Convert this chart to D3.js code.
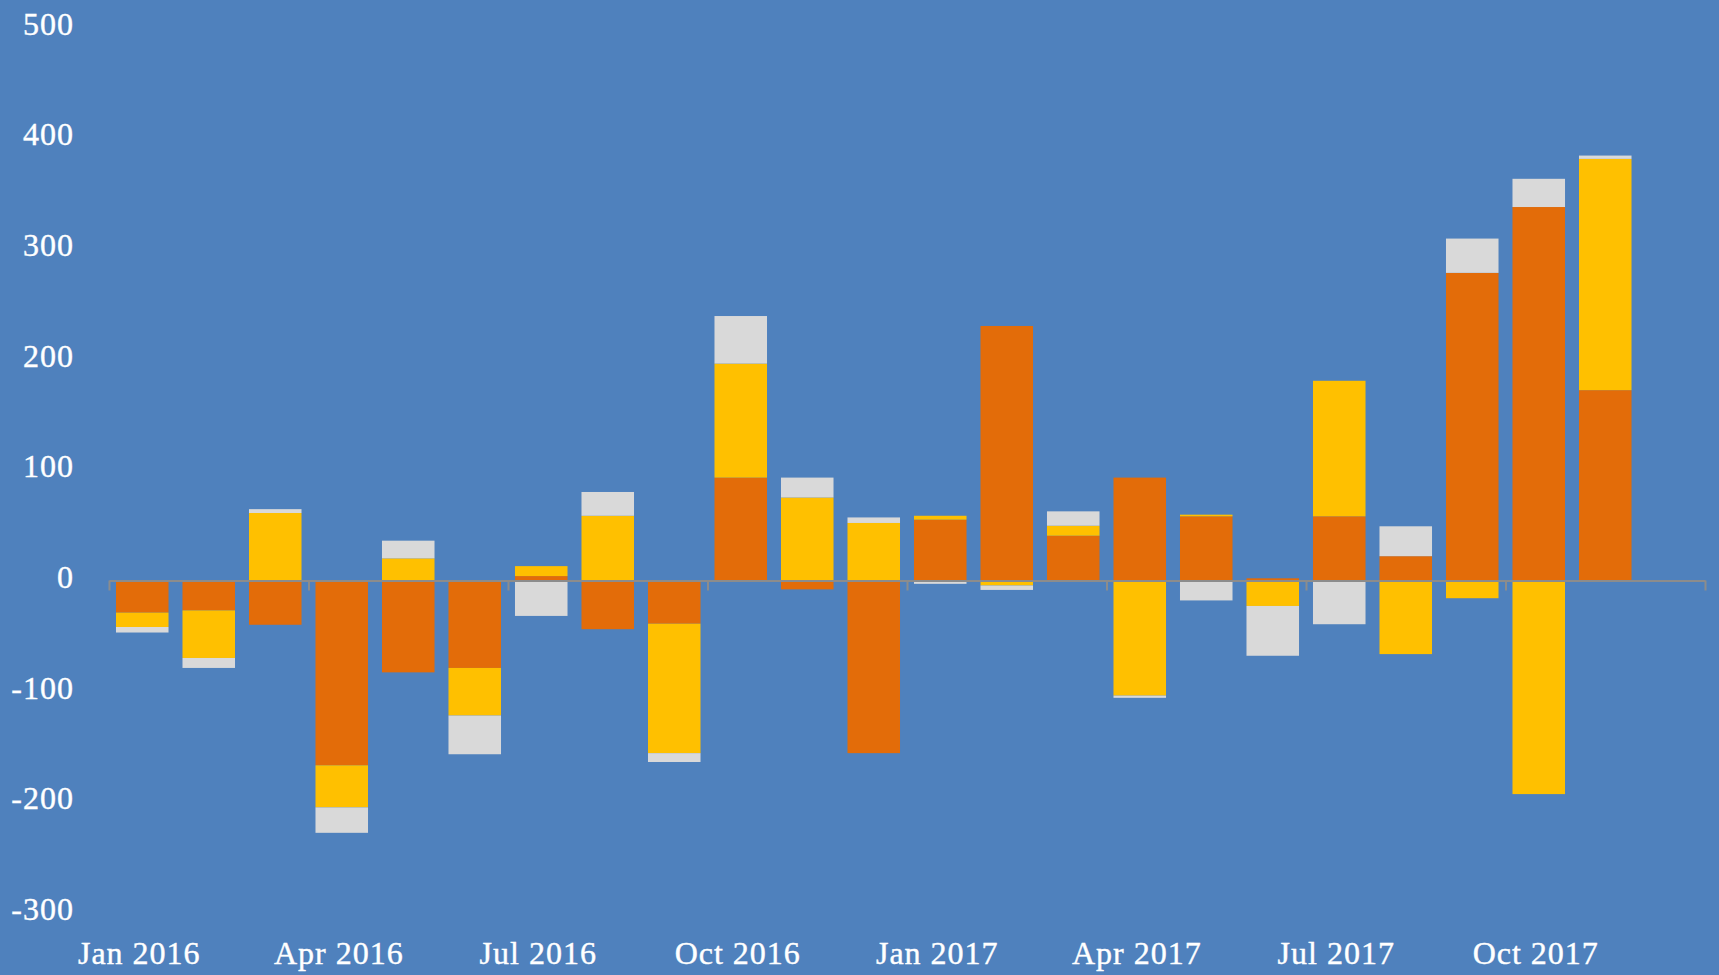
<!DOCTYPE html>
<html>
<head>
<meta charset="utf-8">
<script src="https://cdn.jsdelivr.net/npm/d3@7"></script>
<style>
    html, body { margin: 0; padding: 0; background: #4F81BD; overflow: hidden; }
    svg { display: block; }
    text { font-family: "Liberation Serif", "Times New Roman", serif; fill: #ffffff; }
</style>
</head>
<body>
<svg id="chart"></svg>
<script>
// month slots on the x axis (last one has no bar)
const months = [
    "Jan 2016", "Feb 2016", "Mar 2016", "Apr 2016", "May 2016", "Jun 2016",
    "Jul 2016", "Aug 2016", "Sep 2016", "Oct 2016", "Nov 2016", "Dec 2016",
    "Jan 2017", "Feb 2017", "Mar 2017", "Apr 2017", "May 2017", "Jun 2017",
    "Jul 2017", "Aug 2017", "Sep 2017", "Oct 2017", "Nov 2017", "Dec 2017"
];
const monthLabels = ["Jan 2016", "Apr 2016", "Jul 2016", "Oct 2016", "Jan 2017", "Apr 2017", "Jul 2017", "Oct 2017"];
const yTicks = [-300, -200, -100, 0, 100, 200, 300, 400, 500];

// series values, Jan 2016 .. Nov 2017
const seriesKeys = ["orange", "yellow", "grey"];
const orangeValues = [-29, -27, -40, -167, -83, -79, 4, -44, -39, 93, -8, -156, 55, 230, 40.5, 93, 58, 2, 58, 22, 278, 337.5, 172];
const yellowValues = [-13, -43, 61, -38, 20, -43, 9, 58.5, -117, 103, 75, 52, 3.5, -4.5, 9, -104, 1.5, -23, 122.5, -66.5, -16, -193, 209];
const greyValues = [-5, -9, 3.5, -23, 16, -35, -32, 21.5, -8, 43, 18, 5, -3, -4, 13, -2, -18, -45, -39.5, 27, 31, 25.5, 3];

const colors = { orange: "#E36C09", yellow: "#FFC000", grey: "#D9D9D9" };

const width = 1719, height = 975;
const svg = d3.select("#chart").attr("width", width).attr("height", height);

const rows = orangeValues.map(function(v, i) {
    return { month: months[i], orange: v, yellow: yellowValues[i], grey: greyValues[i] };
});

const x = d3.scaleBand()
    .domain(months)
    .range([109, 1705])
    .paddingInner(0.21)
    .paddingOuter(0.105);

// index scale for the quarter tick marks on the zero line
const xIdx = d3.scaleLinear().domain([0, months.length]).range([109, 1705]);

const y = d3.scaleLinear().domain([-300, 500]).range([912.5, 27.2]);

const stack = d3.stack()
    .keys(seriesKeys)
    .offset(d3.stackOffsetDiverging);

const layers = stack(rows);

// bars
svg.append("g").selectAll("g")
    .data(layers)
    .enter().append("g")
        .attr("fill", function(d) { return colors[d.key]; })
    .selectAll("rect")
    .data(function(d) { return d; })
    .enter().append("rect")
        .attr("x", function(d) { return x(d.data.month); })
        .attr("width", x.bandwidth())
        .attr("y", function(d) { return y(Math.max(d[0], d[1])); })
        .attr("height", function(d) { return Math.abs(y(d[0]) - y(d[1])); });

// zero line with quarter ticks
const zeroAxis = svg.append("g")
    .attr("transform", "translate(0," + y(0) + ")")
    .call(d3.axisBottom(xIdx)
        .tickValues(d3.range(0, months.length + 1, 3))
        .tickSize(10)
        .tickSizeOuter(0)
        .tickFormat(""));
zeroAxis.select(".domain").attr("stroke", "#8C8C8C").attr("stroke-width", 2);
zeroAxis.selectAll(".tick line").attr("stroke", "#8C8C8C").attr("stroke-width", 2);

// month labels along the bottom
const xAxis = svg.append("g")
    .attr("transform", "translate(0,964)")
    .call(d3.axisBottom(x).tickValues(monthLabels).tickSize(0));
xAxis.select(".domain").remove();
xAxis.selectAll("text")
    .attr("y", 0)
    .attr("dy", 0)
    .attr("dx", -3)
    .attr("fill", "#ffffff")
    .attr("stroke", "#ffffff")
    .attr("stroke-width", 0.4)
    .style("font-size", "32px")
    .style("letter-spacing", "1px");

// value labels on the left (plain hyphen for negatives)
const yAxis = svg.append("g")
    .attr("transform", "translate(77,0)")
    .call(d3.axisLeft(y).tickValues(yTicks).tickSize(0).tickPadding(3)
        .tickFormat(function(d) { return String(d); }));
yAxis.select(".domain").remove();
yAxis.selectAll("text")
    .attr("dy", 7)
    .attr("fill", "#ffffff")
    .attr("stroke", "#ffffff")
    .attr("stroke-width", 0.4)
    .style("font-size", "32px")
    .style("letter-spacing", "1px");
</script>
</body>
</html>
